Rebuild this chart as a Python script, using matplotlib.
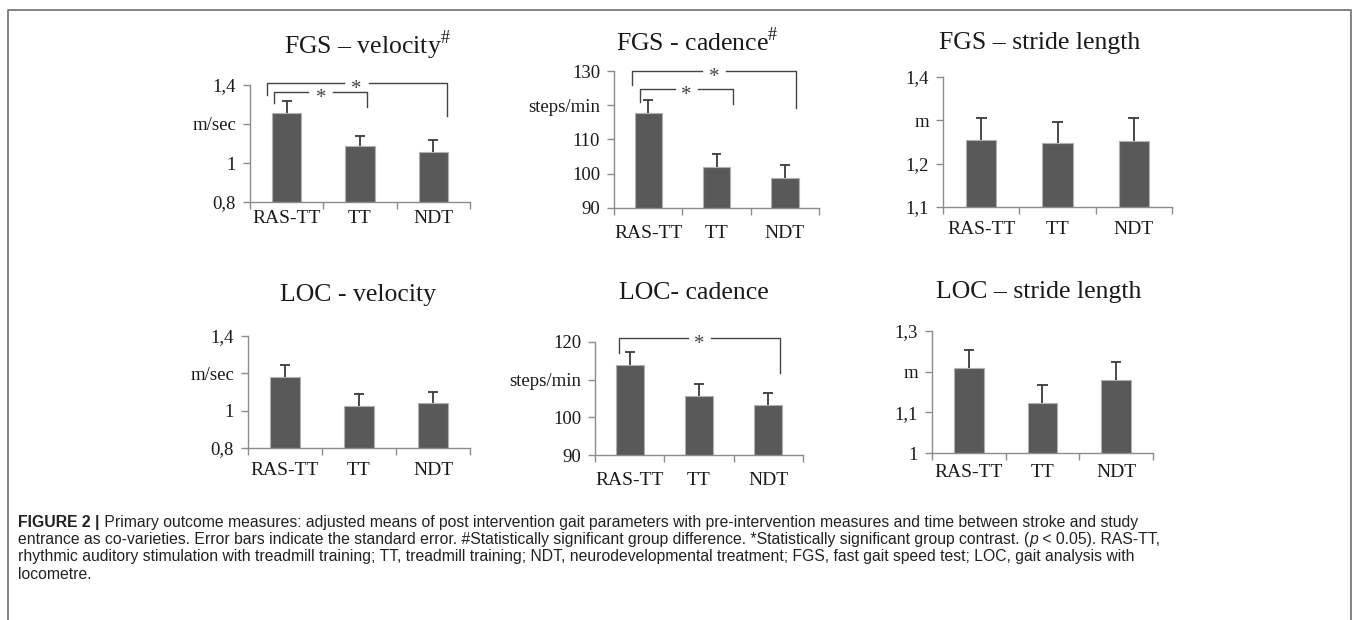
import matplotlib
matplotlib.use('Agg')
import matplotlib.pyplot as plt
import matplotlib.transforms as mtransforms

plt.rcParams['font.family'] = 'Liberation Serif'
plt.rcParams['mathtext.fontset'] = 'custom'
plt.rcParams['mathtext.rm'] = 'Liberation Serif'

groups = ['RAS-TT', 'TT', 'NDT']

# adjusted means and standard errors
fgs_vel_mean = [1.256, 1.089, 1.058]
fgs_vel_se = [0.062, 0.049, 0.060]
fgs_cad_mean = [117.6, 102.1, 98.8]
fgs_cad_se = [3.9, 3.6, 3.8]
fgs_str_mean = [1.255, 1.247, 1.253]
fgs_str_se = [0.050, 0.048, 0.052]
loc_vel_mean = [1.180, 1.027, 1.039]
loc_vel_se = [0.066, 0.062, 0.063]
loc_cad_mean = [114.0, 105.6, 103.3]
loc_cad_se = [3.3, 3.15, 3.1]
loc_str_mean = [1.210, 1.124, 1.180]
loc_str_se = [0.044, 0.042, 0.044]

# y ticks and their labels (unit text sits in place of one tick label)
vel_ticks = [0.8, 1.0, 1.2, 1.4]
vel_labels = ['0,8', '1', 'm/sec', '1,4']
fgs_cad_ticks = [90, 100, 110, 120, 130]
fgs_cad_labels = ['90', '100', '110', 'steps/min', '130']
fgs_str_ticks = [1.1, 1.2, 1.3, 1.4]
fgs_str_labels = ['1,1', '1,2', 'm', '1,4']
loc_cad_ticks = [90, 100, 110, 120]
loc_cad_labels = ['90', '100', 'steps/min', '120']
loc_str_ticks = [1.0, 1.1, 1.2, 1.3]
loc_str_labels = ['1', '1,1', 'm', '1,3']

# significance brackets: (from group, to group, left offset, right offset,
# top, left leg end, right leg end) - heights in axes fraction
fgs_vel_sig = [(0, 2, -0.27, 0.18, 1.017, 0.915, 0.735),
               (0, 1, -0.17, 0.10, 0.94, 0.846, 0.812)]
fgs_cad_sig = [(0, 2, -0.24, 0.17, 1.0, 0.898, 0.73),
               (0, 1, -0.12, 0.24, 0.869, 0.774, 0.759)]
loc_cad_sig = [(0, 2, -0.15, 0.17, 1.038, 0.903, 0.728)]

W, H = 1357, 620
fig = plt.figure(figsize=(W / 100, H / 100), dpi=100)
bg = fig.add_axes([0, 0, 1, 1])
bg.set_xlim(0, W)
bg.set_ylim(H, 0)
bg.axis('off')

# frame round the figure
bg.plot([8, 8, 1351, 1351], [H, 10, 10, H], color='#7a7a7a', lw=1.3)

BAR = '#595959'
AX = '#8c8c8c'
TXT = '#1a1a1a'
LINE = '#444444'


def panel(box, mean, se, ticks, labels, title, tpos, sig=(), xpad=4):
    x0, y0, x1, y1 = box
    ax = fig.add_axes([x0 / W, 1 - y1 / H, (x1 - x0) / W, (y1 - y0) / H])
    xs = list(range(len(groups)))
    tops = [m + e for m, e in zip(mean, se)]
    ax.bar(xs, mean, width=0.4, color=BAR, edgecolor='#b0b0b0', lw=0.8, zorder=2)
    # upper error bars only
    ax.vlines(xs, mean, tops, color='#3a3a3a', lw=1.3, zorder=3)
    ax.hlines(tops, [x - 0.07 for x in xs], [x + 0.07 for x in xs], color='#3a3a3a',
              lw=1.3, zorder=3)
    ax.set_xlim(-0.5, 2.5)
    ax.set_ylim(ticks[0], ticks[-1])
    ax.set_yticks(ticks)
    ax.set_yticklabels(labels)
    ax.set_xticks(xs)
    ax.set_xticklabels(groups)
    ax.set_xticks([-0.5, 0.5, 1.5, 2.5], minor=True)
    ax.tick_params(axis='x', which='major', length=0, pad=xpad, labelsize=14, labelcolor=TXT)
    ax.tick_params(axis='x', which='minor', length=5, width=1, color=AX, direction='out')
    ax.tick_params(axis='y', length=5, width=1, color=AX, pad=5, labelsize=13.5, labelcolor=TXT)
    for s in ['top', 'right']:
        ax.spines[s].set_visible(False)
    for s in ['left', 'bottom']:
        ax.spines[s].set_color(AX)
        ax.spines[s].set_linewidth(1)
    ax.set_facecolor('none')
    tr = mtransforms.blended_transform_factory(ax.transData, ax.transAxes)
    star_tr = mtransforms.offset_copy(tr, fig=fig, x=0, y=-11, units='dots')
    for i, j, dl, dr, top, yl, yr in sig:
        xl, xr = i + dl, j + dr
        mid = (xl + xr) / 2
        gap = 0.17
        ax.plot([xl, xl, mid - gap], [yl, top, top], color=LINE, lw=1.0,
                transform=tr, clip_on=False, zorder=1)
        ax.plot([mid + gap, xr, xr], [top, top, yr], color=LINE, lw=1.0,
                transform=tr, clip_on=False, zorder=1)
        ax.text(mid, top, '*', transform=star_tr, ha='center', va='baseline',
                fontsize=15, color=LINE, clip_on=False, zorder=4)
    bg.text(tpos[0], tpos[1], title, ha='center', va='center', fontsize=18.5, color=TXT)
    return ax


panel((250, 85, 470, 202), fgs_vel_mean, fgs_vel_se, vel_ticks, vel_labels,
      'FGS – velocity$^{\\#}$', (367, 45), fgs_vel_sig, xpad=6)
panel((614, 71, 819, 208), fgs_cad_mean, fgs_cad_se, fgs_cad_ticks, fgs_cad_labels,
      'FGS - cadence$^{\\#}$', (697, 42), fgs_cad_sig, xpad=12)
panel((943, 77, 1172, 207), fgs_str_mean, fgs_str_se, fgs_str_ticks, fgs_str_labels,
      'FGS – stride length', (1040, 43), xpad=10)
panel((248, 336, 470, 448), loc_vel_mean, loc_vel_se, vel_ticks, vel_labels,
      'LOC - velocity', (358, 295), xpad=10)
panel((595, 342, 803, 455), loc_cad_mean, loc_cad_se, loc_cad_ticks, loc_cad_labels,
      'LOC- cadence', (694, 293), loc_cad_sig, xpad=12)
panel((932, 331, 1153, 453), loc_str_mean, loc_str_se, loc_str_ticks, loc_str_labels,
      'LOC – stride length', (1039, 292), xpad=8)

# caption, built piece by piece so bold / italic parts line up
cap = dict(family='Liberation Sans', fontsize=11.3, color='#222222')


def chain(prev, s, **kw):
    return bg.annotate(s, xy=(1, 0), xycoords=prev, va='bottom', ha='left', **cap, **kw)


t = bg.text(18, 522, 'FIGURE 2 |', va='center', weight='bold', **cap)
chain(t, ' Primary outcome measures: adjusted means of post intervention gait parameters '
         'with pre-intervention measures and time between stroke and study')
t = bg.text(18, 539.5, 'entrance as co-varieties. Error bars indicate the standard error. '
                       '#Statistically significant group difference. *Statistically '
                       'significant group contrast. (', va='center', **cap)
t = chain(t, 'p', style='italic')
chain(t, ' < 0.05). RAS-TT,')
bg.text(18, 557, 'rhythmic auditory stimulation with treadmill training; TT, treadmill training; '
                 'NDT, neurodevelopmental treatment; FGS, fast gait speed test; LOC, gait '
                 'analysis with', va='center', **cap)
bg.text(18, 574.5, 'locometre.', va='center', **cap)

plt.savefig('out.png', dpi=100)
